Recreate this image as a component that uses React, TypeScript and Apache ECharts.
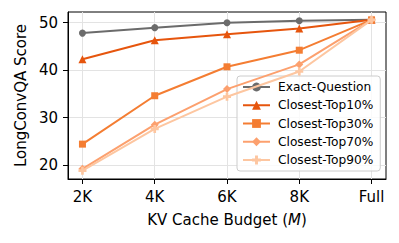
import React, { useEffect, useRef } from "react";
import * as echarts from "echarts";

const categories = ["2K", "4K", "6K", "8K", "Full"];
const seriesNames = ["Exact-Question", "Closest-Top10%", "Closest-Top30%", "Closest-Top70%", "Closest-Top90%"];
const exactQuestion = [47.8, 48.95, 50.0, 50.4, 50.6];
const top10 = [42.3, 46.3, 47.55, 48.75, 50.6];
const top30 = [24.4, 34.6, 40.7, 44.2, 50.6];
const top70 = [19.2, 28.5, 36.0, 41.2, 50.6];
const top90 = [18.8, 27.6, 34.4, 39.7, 50.6];
const yTicks = [20, 30, 40, 50];
const xTicks = [0, 1, 2, 3, 4];

const colors = ["#6b6b6b", "#e6550d", "#f47d32", "#fca06e", "#fdc6a0"];
const plusPath = "path://M3,0H6V3H9V6H6V9H3V6H0V3H3Z";
const symbols = ["circle", "triangle", "rect", "diamond", plusPath];
const symbolSizes = [7, 8, 7, 8, 8];
const allValues = [exactQuestion, top10, top30, top70, top90];

const FONT = "DejaVu Sans";

export default function App() {
  const ref = useRef<HTMLDivElement>(null);
  useEffect(() => {
    if (!ref.current) return;
    const chart = echarts.init(ref.current, null, { renderer: "svg" });
    const series = seriesNames.map((name, i) => ({
      name,
      type: "line",
      data: allValues[i].map((v, j) => [j, v]),
      symbol: symbols[i],
      symbolSize: symbolSizes[i],
      showSymbol: true,
      lineStyle: { color: colors[i], width: 2 },
      itemStyle: { color: colors[i] },
      z: 2 + i,
    }));
    chart.setOption({
      animation: false,
      grid: {
        left: 68,
        right: 13,
        top: 12,
        bottom: 64,
        show: true,
        borderColor: "#000",
        borderWidth: 1,
        backgroundColor: "transparent",
      },
      xAxis: {
        type: "value",
        min: -0.2,
        max: 4.2,
        name: "KV Cache Budget ({i|M})",
        nameLocation: "middle",
        nameGap: 33,
        nameTextStyle: {
          fontFamily: FONT,
          fontSize: 15,
          color: "#000",
          rich: { i: { fontFamily: FONT, fontSize: 15, fontStyle: "italic", color: "#000" } },
        },
        axisLine: { show: true, onZero: false, lineStyle: { color: "#000", width: 1 } },
        axisTick: { show: true, length: 5, lineStyle: { color: "#000" }, customValues: xTicks },
        axisLabel: {
          customValues: xTicks,
          margin: 10,
          fontFamily: FONT,
          fontSize: 15,
          color: "#000",
          formatter: (v: number) => categories[Math.round(v)] ?? "",
        },
        splitLine: { show: true, lineStyle: { color: "#e3e3e3", width: 1 } },
      },
      yAxis: {
        type: "value",
        min: 17.05,
        max: 52.25,
        name: "LongConvQA Score",
        nameLocation: "middle",
        nameGap: 40,
        nameTextStyle: { fontFamily: FONT, fontSize: 15, color: "#000" },
        axisLine: { show: true, onZero: false, lineStyle: { color: "#000", width: 1 } },
        axisTick: { show: true, length: 5, lineStyle: { color: "#000" }, customValues: yTicks },
        axisLabel: {
          customValues: yTicks,
          margin: 10,
          fontFamily: FONT,
          fontSize: 15,
          color: "#000",
        },
        splitLine: { show: true, lineStyle: { color: "#e3e3e3", width: 1 } },
      },
      legend: {
        data: seriesNames,
        orient: "vertical",
        left: 237,
        top: 76,
        padding: [4, 7, 4, 5],
        itemGap: 4.25,
        itemWidth: 27,
        itemHeight: 11,
        backgroundColor: "rgba(255,255,255,0.8)",
        borderColor: "#cccccc",
        borderWidth: 1,
        borderRadius: 3,
        textStyle: { fontFamily: FONT, fontSize: 12.2, color: "#000", lineHeight: 14, padding: [0, 0, 0, 3] },
      },
      series,
    });
    return () => chart.dispose();
  }, []);
  return <div ref={ref} style={{ width: 399, height: 243, position: "absolute", left: 0, top: 0 }} />;
}
